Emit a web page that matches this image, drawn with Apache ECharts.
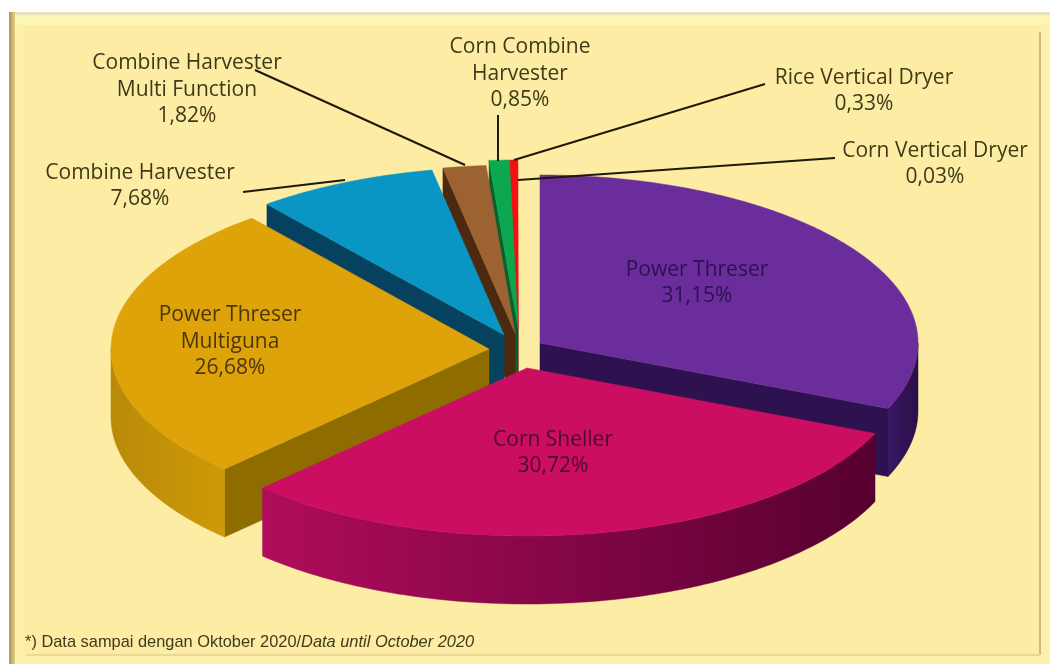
<!DOCTYPE html>
<html>
<head>
<meta charset="utf-8">
<title>Power Threser</title>
<script src="https://cdn.jsdelivr.net/npm/echarts@6/dist/echarts.min.js"></script>
<style>
  html, body { margin: 0; padding: 0; background: #fff; }
  #main { width: 1050px; height: 664px; }
</style>
</head>
<body>
<div id="main"></div>
<script>
// data
const categories = ["Power Threser", "Corn Sheller", "Power Threser\nMultiguna", "Combine Harvester", "Combine Harvester\nMulti Function", "Corn Combine\nHarvester", "Rice Vertical Dryer", "Corn Vertical Dryer"];
const shares = [31.15, 30.72, 26.68, 7.68, 1.82, 0.85, 0.33, 0.03];
const footnote = "*) Data sampai dengan Oktober 2020/";
const footnoteEn = "Data until October 2020";

// pie geometry
const RX = 378, RY = 168, DEPTH = 68;
// apex of each exploded slice
const apexes = [[540, 343], [527, 368], [489, 349], [504, 335], [515, 333], [518, 328], [518, 328], [518, 328]];
const topColors = ["#6b2d9b", "#cc0e63", "#dfa30a", "#0a96c4", "#9c6231", "#0ca84f", "#f21010", "#f21010"];
const sideColors = ["#2e1250", "#6a0035", "#8f6c00", "#06425f", "#4b2a10", "#07602d", "#8a0808", "#8a0808"];
const rimColors = [["#3a1763", "#2a0f48"], ["#b00c5c", "#560030"], ["#b98a08", "#cf9a08"], ["#0a6f92", "#06425f"], ["#7a4a20", "#4b2a10"], ["#0a8a40", "#07602d"], ["#c00c0c", "#8a0808"], ["#c00c0c", "#8a0808"]];
const labelPos = [[697, 283], [553, 453], [230, 342], [140, 186], [187, 90], [520, 74], [864, 91], [935, 164]];
const labelColors = ["#2c1250", "#4a0a30", "#4a3608", "#3e3a18", "#3e3a18", "#3e3a18", "#3e3a18", "#3e3a18"];
const leaders = [null, null, null, [[243, 192], [345, 180]], [[255, 70], [465, 165]], [[498, 115], [498, 161]], [[765, 84], [514, 160]], [[835, 158], [518, 180]]];

const total = shares.reduce((a, b) => a + b, 0);
let acc = 0;
const slices = shares.map((v, i) => {
  const start = acc / total * 360;
  acc += v;
  return { i, start, end: acc / total * 360 };
});
// paint from the back of the pie to the front
const paintOrder = slices.slice().sort((a, b) => {
  return Math.cos((b.start + b.end) / 360 * Math.PI) - Math.cos((a.start + a.end) / 360 * Math.PI);
}).map(s => s.i);

const rimPoint = (apex, deg) => {
  const r = deg * Math.PI / 180;
  return [apex[0] + RX * Math.sin(r), apex[1] - RY * Math.cos(r)];
};
const poly = (points, fill) => ({
  type: "polygon",
  shape: { points },
  style: { fill, stroke: fill, lineWidth: 0.5 }
});
const down = p => [p[0], p[1] + DEPTH];

const renderSlice = (params, api) => {
  const s = slices[api.value(0)];
  const apex = apexes[s.i];
  const children = [];
  const startPt = rimPoint(apex, s.start);
  const endPt = rimPoint(apex, s.end);
  // radial side walls that face the viewer
  if (s.end < 180) children.push(poly([apex, endPt, down(endPt), down(apex)], sideColors[s.i]));
  if (s.start > 180) children.push(poly([apex, startPt, down(startPt), down(apex)], sideColors[s.i]));
  // outer rim, only the front half of the ellipse shows
  const from = Math.max(s.start, 90), to = Math.min(s.end, 270);
  if (to > from) {
    const upper = [], lower = [];
    for (let d = from; d <= to; d += 1) upper.push(rimPoint(apex, d));
    upper.push(rimPoint(apex, to));
    upper.forEach(p => lower.unshift(down(p)));
    children.push(poly(upper.concat(lower), {
      type: "linear", x: 0, y: 0, x2: 1, y2: 0,
      colorStops: [{ offset: 0, color: rimColors[s.i][0] }, { offset: 1, color: rimColors[s.i][1] }]
    }));
  }
  // top face
  const top = [apex];
  for (let d = s.start; d < s.end; d += 0.5) top.push(rimPoint(apex, d));
  top.push(endPt);
  children.push(poly(top, topColors[s.i]));
  return { type: "group", children };
};

const renderLabel = (params, api) => {
  const i = api.value(0);
  const children = [];
  if (leaders[i]) {
    children.push({
      type: "polyline",
      shape: { points: leaders[i] },
      style: { stroke: "#1e1a08", lineWidth: 2, fill: null }
    });
  }
  children.push({
    type: "text",
    x: labelPos[i][0],
    y: labelPos[i][1],
    style: {
      text: categories[i] + "\n" + shares[i].toFixed(2).replace(".", ",") + "%",
      fill: labelColors[i],
      fontFamily: "'Open Sans', Lato, sans-serif",
      fontSize: 21,
      lineHeight: 26.5,
      align: "center",
      verticalAlign: "middle"
    }
  });
  return { type: "group", children };
};

const chart = echarts.init(document.getElementById("main"), null, { renderer: "canvas" });
chart.setOption({
  animation: false,
  backgroundColor: "#fff",
  title: {
    text: "{a|" + footnote + "}{b|" + footnoteEn + "}",
    left: 25,
    top: 634,
    padding: 0,
    textStyle: {
      fontWeight: "normal",
      rich: {
        a: { fontFamily: "'Liberation Sans', Arial, sans-serif", fontSize: 16.4, fontWeight: "normal", color: "#3f3a1c" },
        b: { fontFamily: "'Liberation Sans', Arial, sans-serif", fontSize: 16.4, fontWeight: "normal", fontStyle: "italic", color: "#3f3a1c" }
      }
    }
  },
  graphic: [
    // frame of the picture
    { type: "rect", z: -10, shape: { x: 9, y: 12, width: 1041, height: 652 }, style: { fill: "#fcf0aa" } },
    { type: "rect", z: -9, shape: { x: 9, y: 12, width: 1041, height: 3 }, style: { fill: "#e8e2bd" } },
    { type: "rect", z: -9, shape: { x: 14, y: 15, width: 1036, height: 10 }, style: { fill: "#fcf6b6" } },
    { type: "rect", z: -9, shape: { x: 9, y: 12, width: 6, height: 652 }, style: { fill: { type: "linear", x: 0, y: 0, x2: 1, y2: 0, colorStops: [{ offset: 0, color: "#a8945c" }, { offset: 1, color: "#e6cd85" }] } } },
    { type: "rect", z: -8, shape: { x: 24, y: 25, width: 1016, height: 629 }, style: { fill: "#fceca4" } },
    { type: "rect", z: -7, shape: { x: 1039, y: 32, width: 2, height: 623 }, style: { fill: "#cfba7c" } },
    { type: "rect", z: -7, shape: { x: 26, y: 654, width: 1014, height: 2 }, style: { fill: "#ead996" } }
  ],
  series: [
    {
      type: "custom",
      coordinateSystem: "none",
      silent: true,
      z: 2,
      data: paintOrder.map(i => [i]),
      renderItem: renderSlice
    },
    {
      type: "custom",
      coordinateSystem: "none",
      silent: true,
      z: 3,
      data: categories.map((c, i) => [i]),
      renderItem: renderLabel
    }
  ]
});
</script>
</body>
</html>
